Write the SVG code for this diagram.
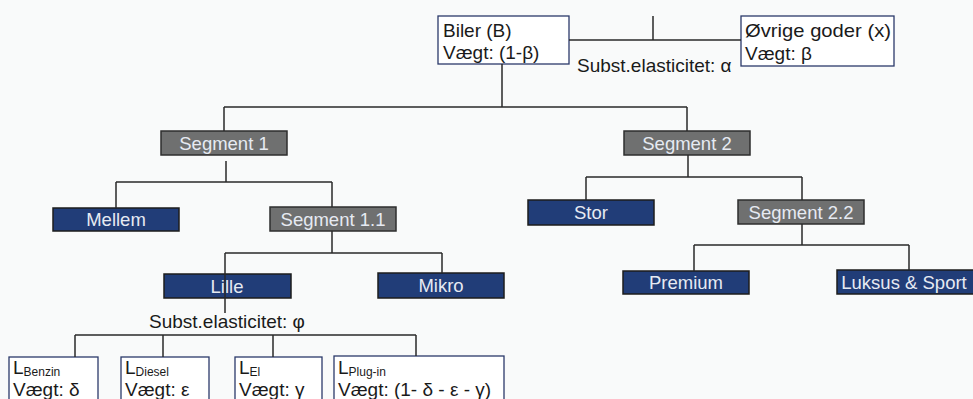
<svg xmlns="http://www.w3.org/2000/svg" width="973" height="399" viewBox="0 0 973 399">
<style>
text{font-family:"Liberation Sans",Arial,sans-serif;font-size:18.5px}
.seg rect{fill:#6f7070;stroke:#2e2e2e;stroke-width:1.5}
.leaf rect{fill:#213d78;stroke:#1c1c1c;stroke-width:1.5}
.seg text,.leaf text{fill:#e6eaf2;text-anchor:middle}
.wb rect{fill:#ffffff;stroke:#2c3a6a;stroke-width:1.3}
.wb text,.lbl{fill:#1a1a1a;font-size:19px}
.wb .sub{font-size:12px}
#connectors path{fill:none;stroke:#2a2a2a;stroke-width:1.5}
</style>
<rect x="0" y="0" width="973" height="399" fill="#f9fafa"/>
<g id="biler" class="wb"><rect x="438" y="16" width="131" height="48"/><text x="443" y="37">Biler (B)</text><text x="443" y="59">Vægt: (1-β)</text></g>
<g id="ovrige" class="wb"><rect x="741" y="16" width="153" height="50"/><text x="745" y="37" textLength="146" lengthAdjust="spacingAndGlyphs">Øvrige goder (x)</text><text x="745" y="60">Vægt: β</text></g>
<g id="segment1" class="seg"><rect x="161" y="131" width="126" height="24"/><text x="224" y="150">Segment 1</text></g>
<g id="segment2" class="seg"><rect x="624" y="131" width="126" height="24"/><text x="687" y="150">Segment 2</text></g>
<g id="mellem" class="leaf"><rect x="53" y="208" width="126" height="23"/><text x="116" y="226">Mellem</text></g>
<g id="segment11" class="seg"><rect x="270" y="207" width="126" height="24"/><text x="333" y="226">Segment 1.1</text></g>
<g id="stor" class="leaf"><rect x="528" y="200" width="126" height="25"/><text x="591" y="219">Stor</text></g>
<g id="segment22" class="seg"><rect x="738" y="200" width="126" height="24"/><text x="801" y="219">Segment 2.2</text></g>
<g id="lille" class="leaf"><rect x="164" y="274" width="127" height="24"/><text x="227" y="293">Lille</text></g>
<g id="mikro" class="leaf"><rect x="378" y="273" width="126" height="25"/><text x="441" y="292">Mikro</text></g>
<g id="premium" class="leaf"><rect x="623" y="271" width="126" height="23"/><text x="686" y="289">Premium</text></g>
<g id="luksus" class="leaf"><rect x="837" y="270" width="140" height="24"/><text x="904" y="289">Luksus &amp; Sport</text></g>
<g id="benzin" class="wb"><rect x="9" y="357" width="89" height="50"/><text x="13" y="374">L<tspan class="sub" dy="2">Benzin</tspan></text><text x="13" y="396">Vægt: δ</text></g>
<g id="diesel" class="wb"><rect x="121" y="357" width="88" height="50"/><text x="125" y="374">L<tspan class="sub" dy="2">Diesel</tspan></text><text x="125" y="396">Vægt: ε</text></g>
<g id="el" class="wb"><rect x="235" y="357" width="87" height="50"/><text x="239" y="374">L<tspan class="sub" dy="2">El</tspan></text><text x="239" y="396">Vægt: γ</text></g>
<g id="plugin" class="wb"><rect x="334" y="356" width="170" height="51"/><text x="338" y="374">L<tspan class="sub" dy="2">Plug-in</tspan></text><text x="338" y="396">Vægt: (1- δ - ε - γ)</text></g>
<g id="labels">
<text class="lbl" x="577" y="72">Subst.elasticitet: α</text>
<text class="lbl" x="149" y="328">Subst.elasticitet: φ</text>
</g>
<g id="connectors">
<path d="M569 40H741M653 16V40"/>
<path d="M502 64V107M224 107H687M224 107V131M687 107V131"/>
<path d="M226 161V182M116 182H332M116 182V208M332 182V207"/>
<path d="M332 231V253M225 253H442M225 253V313M442 253V273"/>
<path d="M75 335H416M75 335V357M163 335V357M273 335V357M416 335V356"/>
<path d="M688 155V177M586 177H802M586 177V200M802 177V200"/>
<path d="M802 224V245M694 245H909M694 245V271M909 245V270"/>
</g>
</svg>
